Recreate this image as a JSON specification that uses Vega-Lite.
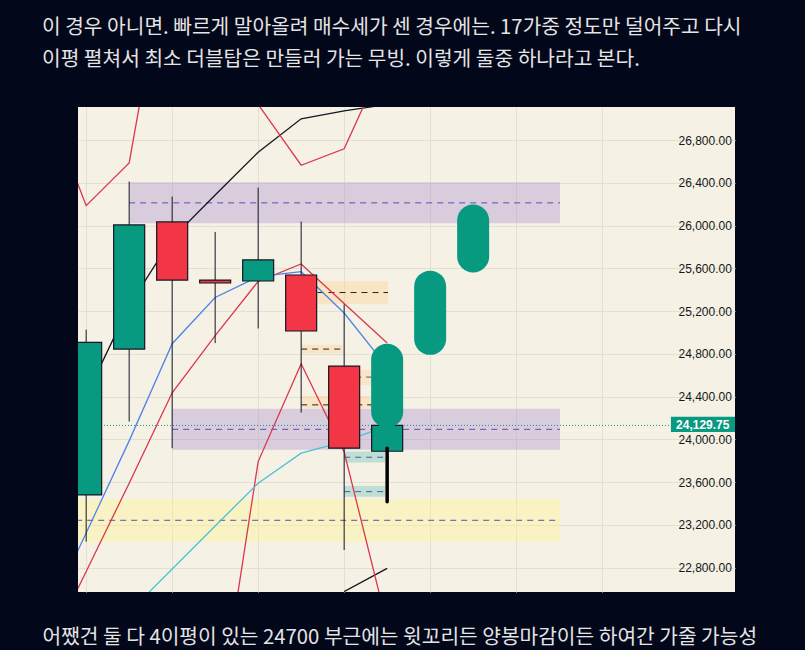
{
  "$schema": "https://vega.github.io/schema/vega-lite/v6.json",
  "width": 657,
  "height": 485,
  "autosize": "none",
  "padding": {"left": 78, "top": 107, "right": 70, "bottom": 58},
  "background": "#03071a",
  "view": {"fill": "#f6f1e5", "stroke": null},
  "title": {
    "text": ["이 경우 아니면. 빠르게 말아올려 매수세가 센 경우에는. 17가중 정도만 덜어주고 다시", "이평 펼쳐서 최소 더블탑은 만들러 가는 무빙. 이렇게 둘중 하나라고 본다."],
    "anchor": "start",
    "frame": "group",
    "dx": -36,
    "offset": 37,
    "lineHeight": 32,
    "font": "Noto Sans CJK KR",
    "fontSize": 20.3,
    "fontWeight": "normal",
    "color": "#e4e4e4"
  },
  "datasets": {
    "zones": [
      {"zone": "purple", "dash": "purple", "x1": 1.0, "x2": 11.02, "lo": 26021, "hi": 26405, "mid": 26212},
      {"zone": "purple", "dash": "purple", "x1": 2.0, "x2": 11.02, "lo": 23903, "hi": 24285, "mid": 24093},
      {"zone": "yellow", "dash": "purple", "x1": -1, "x2": 11.02, "lo": 23042, "hi": 23439, "mid": 23242},
      {"zone": "orange", "dash": "black", "x1": 5.38, "x2": 7.02, "lo": 25265, "hi": 25481, "mid": 25373},
      {"zone": "orange", "dash": "black", "x1": 5.0, "x2": 5.98, "lo": 24806, "hi": 24884, "mid": 24844},
      {"zone": "orange", "dash": "black", "x1": 5.0, "x2": 6.65, "lo": 24291, "hi": 24406, "mid": 24322},
      {"zone": "orange", "dash": "purple", "x1": 6.0, "x2": 6.65, "lo": 24510, "hi": 24650, "mid": 24582},
      {"zone": "teal", "dash": "purple", "x1": 6.0, "x2": 6.95, "lo": 23782, "hi": 23885, "mid": 23832},
      {"zone": "teal", "dash": "purple", "x1": 6.0, "x2": 6.95, "lo": 23463, "hi": 23566, "mid": 23510}
    ],
    "lines": [
      {"series": "black_up", "i": 0, "price": 24406},
      {"series": "black_up", "i": 1, "price": 25250},
      {"series": "black_up", "i": 2, "price": 25880},
      {"series": "black_up", "i": 3, "price": 26285},
      {"series": "black_up", "i": 4, "price": 26686},
      {"series": "black_up", "i": 5, "price": 26999},
      {"series": "black_up", "i": 6, "price": 27072},
      {"series": "black_up", "i": 7, "price": 27133},
      {"series": "black_low", "i": 6, "price": 22575},
      {"series": "black_low", "i": 7, "price": 22792},
      {"series": "red_top", "i": -1, "price": 27235},
      {"series": "red_top", "i": 0, "price": 26186},
      {"series": "red_top", "i": 1, "price": 26586},
      {"series": "red_top", "i": 2, "price": 28842},
      {"series": "red_top", "i": 3, "price": 28000},
      {"series": "red_top", "i": 4, "price": 27133},
      {"series": "red_top", "i": 5, "price": 26564},
      {"series": "red_top", "i": 6, "price": 26718},
      {"series": "red_top", "i": 7, "price": 27601},
      {"series": "red_mid", "i": -1, "price": 21943},
      {"series": "red_mid", "i": 0, "price": 22762},
      {"series": "red_mid", "i": 1, "price": 23589},
      {"series": "red_mid", "i": 2, "price": 24435},
      {"series": "red_mid", "i": 3, "price": 24969},
      {"series": "red_mid", "i": 4, "price": 25477},
      {"series": "red_mid", "i": 5, "price": 25640},
      {"series": "red_mid", "i": 6, "price": 25270},
      {"series": "red_mid", "i": 7, "price": 24900},
      {"series": "red_low", "i": 3, "price": 21184},
      {"series": "red_low", "i": 4, "price": 23791},
      {"series": "red_low", "i": 5, "price": 24706},
      {"series": "red_low", "i": 6, "price": 23882},
      {"series": "red_low", "i": 7, "price": 22261},
      {"series": "blue", "i": -1, "price": 22270},
      {"series": "blue", "i": 0, "price": 23123},
      {"series": "blue", "i": 1, "price": 23985},
      {"series": "blue", "i": 2, "price": 24894},
      {"series": "blue", "i": 3, "price": 25327},
      {"series": "blue", "i": 4, "price": 25521},
      {"series": "blue", "i": 5, "price": 25568},
      {"series": "blue", "i": 6, "price": 25181},
      {"series": "blue", "i": 7, "price": 24675},
      {"series": "cyan", "i": 1, "price": 22383},
      {"series": "cyan", "i": 2, "price": 22786},
      {"series": "cyan", "i": 3, "price": 23189},
      {"series": "cyan", "i": 4, "price": 23589},
      {"series": "cyan", "i": 5, "price": 23870},
      {"series": "cyan", "i": 6, "price": 23978},
      {"series": "cyan", "i": 7, "price": 24125}
    ],
    "candles": [
      {"i": 0, "open": 23479, "high": 25025, "low": 23042, "close": 24906},
      {"i": 1, "open": 24844, "high": 26411, "low": 24166, "close": 26006},
      {"i": 2, "open": 26034, "high": 26271, "low": 23917, "close": 25490},
      {"i": 3, "open": 25490, "high": 25940, "low": 24900, "close": 25462},
      {"i": 4, "open": 25481, "high": 26355, "low": 25037, "close": 25678},
      {"i": 5, "open": 25537, "high": 26037, "low": 24250, "close": 25013},
      {"i": 6, "open": 24685, "high": 25262, "low": 22964, "close": 23917},
      {"i": 7, "open": 23888, "high": 24300, "low": 23416, "close": 24129.75}
    ],
    "pills": [
      {"i": 7, "from": 24257, "to": 24744},
      {"i": 8, "from": 24940, "to": 25428},
      {"i": 9, "from": 25711, "to": 26046}
    ],
    "stroke": [
      {"i": 7, "from": 23416, "to": 23917}
    ],
    "last": [
      {"price": 24129.75, "label": "24,129.75"}
    ]
  },
  "layer": [
    {
      "data": {"name": "zones"},
      "mark": {"type": "rect", "opacity": 0.35, "clip": true},
      "encoding": {
        "x": {
          "field": "x1", "type": "quantitative",
          "scale": {"domain": [-0.19, 15.09], "nice": false, "zero": false, "padding": 0},
          "axis": {
            "values": [0, 2, 4, 6, 8, 10, 12],
            "grid": true, "gridColor": "#e4dfd3",
            "labels": false, "ticks": false, "domain": false,
            "title": "어쨌건 둘 다 4이평이 있는 24700 부근에는 윗꼬리든 양봉마감이든 하여간 가줄 가능성",
            "titleAnchor": "start", "titleAlign": "left",
            "titleX": -36, "titleY": 45, "titleBaseline": "middle",
            "titleColor": "#e4e4e4", "titleFont": "Noto Sans CJK KR",
            "titleFontSize": 20.3, "titleFontWeight": "normal"
          }
        },
        "x2": {"field": "x2"},
        "y": {
          "field": "lo", "type": "quantitative",
          "scale": {"domain": [22571, 27109], "nice": false, "zero": false, "padding": 0},
          "axis": {
            "orient": "right", "offset": -57,
            "values": [22800, 23200, 23600, 24000, 24400, 24800, 25200, 25600, 26000, 26400, 26800],
            "format": ",.2f",
            "grid": true, "gridColor": "#e4dfd3",
            "ticks": false, "domain": false, "labelPadding": 0,
            "labelFont": "Liberation Sans", "labelFontSize": 12, "labelColor": "#131722",
            "title": null
          }
        },
        "y2": {"field": "hi"},
        "fill": {
          "field": "zone", "type": "nominal",
          "scale": {"domain": ["purple", "yellow", "orange", "teal"], "range": ["#a387cf", "#fff685", "#ffcc85", "#56c0b3"]},
          "legend": null
        }
      }
    },
    {
      "data": {"name": "zones"},
      "mark": {"type": "rule", "strokeDash": [6, 5], "strokeWidth": 1, "clip": true},
      "encoding": {
        "x": {"field": "x1", "type": "quantitative"},
        "x2": {"field": "x2"},
        "y": {"field": "mid", "type": "quantitative"},
        "color": {
          "field": "dash", "type": "nominal",
          "scale": {"domain": ["purple", "black"], "range": ["#5e4bb6", "#222222"]},
          "legend": null
        }
      }
    },
    {
      "data": {"name": "lines"},
      "mark": {"type": "line", "strokeWidth": 1.3, "clip": true},
      "encoding": {
        "x": {"field": "i", "type": "quantitative"},
        "y": {"field": "price", "type": "quantitative"},
        "stroke": {
          "field": "series", "type": "nominal",
          "scale": {"domain": ["black_up", "black_low", "red_top", "red_mid", "red_low", "blue", "cyan"], "range": ["#131722", "#131722", "#d9364f", "#d9364f", "#d9364f", "#4f82e8", "#48c2d6"]},
          "legend": null
        }
      }
    },
    {
      "data": {"name": "last"},
      "mark": {"type": "rule", "strokeDash": [1, 2], "strokeWidth": 1, "color": "#089981", "clip": true},
      "encoding": {
        "y": {"field": "price", "type": "quantitative"}
      }
    },
    {
      "data": {"name": "candles"},
      "mark": {"type": "rule", "color": "#131722", "strokeWidth": 1, "clip": true},
      "encoding": {
        "x": {"field": "i", "type": "quantitative"},
        "y": {"field": "low", "type": "quantitative"},
        "y2": {"field": "high"}
      }
    },
    {
      "data": {"name": "candles"},
      "mark": {"type": "bar", "size": 31, "stroke": "#131722", "strokeWidth": 1.2, "clip": true},
      "encoding": {
        "x": {"field": "i", "type": "quantitative"},
        "y": {"field": "open", "type": "quantitative"},
        "y2": {"field": "close"},
        "fill": {"condition": {"test": "datum.close >= datum.open", "value": "#089981"}, "value": "#f23645"}
      }
    },
    {
      "data": {"name": "stroke"},
      "mark": {"type": "rule", "color": "#000000", "strokeWidth": 3.5, "strokeCap": "round", "clip": true},
      "encoding": {
        "x": {"field": "i", "type": "quantitative"},
        "y": {"field": "from", "type": "quantitative"},
        "y2": {"field": "to"}
      }
    },
    {
      "data": {"name": "pills"},
      "mark": {"type": "rule", "color": "#089981", "strokeWidth": 32, "strokeCap": "round", "clip": true},
      "encoding": {
        "x": {"field": "i", "type": "quantitative"},
        "y": {"field": "from", "type": "quantitative"},
        "y2": {"field": "to"}
      }
    },
    {
      "data": {"name": "last"},
      "mark": {"type": "rect", "color": "#089981", "clip": true},
      "encoding": {
        "x": {"datum": 13.6},
        "x2": {"datum": 15.2},
        "y": {"datum": 24069},
        "y2": {"datum": 24210}
      }
    },
    {
      "data": {"name": "last"},
      "mark": {"type": "text", "color": "#ffffff", "font": "Liberation Sans", "fontSize": 12, "fontWeight": "bold", "align": "center", "baseline": "middle"},
      "encoding": {
        "x": {"datum": 14.34},
        "y": {"field": "price", "type": "quantitative"},
        "text": {"field": "label"}
      }
    }
  ],
  "resolve": {"scale": {"color": "independent", "fill": "independent", "stroke": "independent"}}
}
